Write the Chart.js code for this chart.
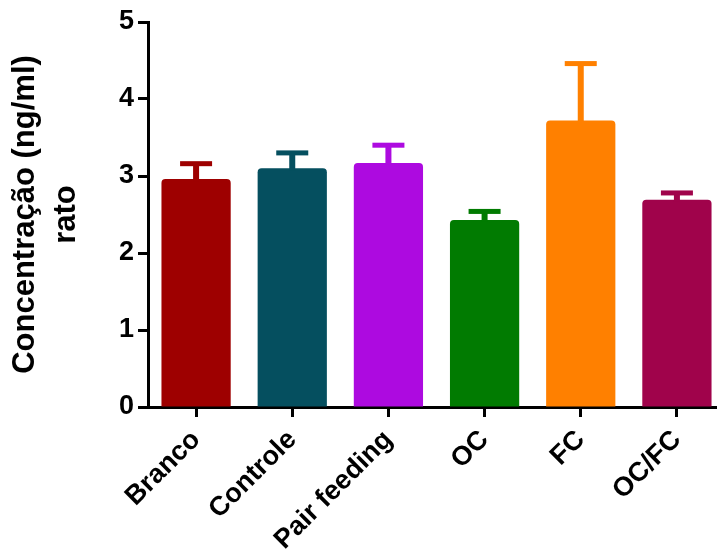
<!DOCTYPE html>
<html>
<head>
<meta charset="utf-8">
<script src="https://cdn.jsdelivr.net/npm/chart.js@4"></script>
<style>
  html, body { margin: 0; padding: 0; background: #fff; overflow: hidden; }
  #wrap { width: 728px; height: 554px; }
</style>
</head>
<body>
<div id="wrap"><canvas id="chart" width="728" height="554"></canvas></div>
<script>
// dados
const grupos = ['Branco', 'Controle', 'Pair feeding', 'OC', 'FC', 'OC/FC'];
const medias = [2.96, 3.10, 3.17, 2.43, 3.72, 2.69];
const erros = [0.20, 0.20, 0.23, 0.11, 0.74, 0.09];
const cores = ['#9E0000', '#054F5F', '#AD0AE0', '#017B01', '#FF8000', '#A0034B'];
const yTicks = [0, 1, 2, 3, 4, 5];

const fonte = "Arial, 'Liberation Sans', sans-serif";

// barras de erro (só para cima), desenhadas pelas escalas do Chart.js
const errorBars = {
    id: 'errorBars',
    afterDatasetsDraw(chart) {
        const ctx = chart.ctx;
        const meta = chart.getDatasetMeta(0);
        const y = chart.scales.y;
        meta.data.forEach((bar, i) => {
            const topo = y.getPixelForValue(medias[i] + erros[i]);
            ctx.save();
            ctx.fillStyle = cores[i];
            ctx.fillRect(bar.x - 3, topo, 6, bar.y - topo + 2);
            ctx.fillRect(bar.x - 16, topo - 2.5, 32, 5);
            ctx.restore();
        });
    }
};

new Chart(document.getElementById('chart'), {
    type: 'bar',
    data: {
        labels: grupos,
        datasets: [{
            data: medias,
            backgroundColor: cores,
            borderWidth: 0,
            borderRadius: 4,
            borderSkipped: 'start',
            categoryPercentage: 1,
            barPercentage: 0.72
        }]
    },
    options: {
        responsive: false,
        animation: false,
        layout: { padding: { top: 22, right: 3, left: 0, bottom: 0 } },
        plugins: { legend: { display: false }, tooltip: { enabled: false } },
        scales: {
            x: {
                afterFit(scale) { scale.height = 147; },
                grid: {
                    offset: false,
                    drawOnChartArea: false,
                    drawTicks: true,
                    tickLength: 10,
                    tickWidth: 3,
                    tickColor: '#000'
                },
                border: { color: '#000', width: 3 },
                ticks: {
                    autoSkip: false,
                    minRotation: 45,
                    maxRotation: 45,
                    padding: 7,
                    color: '#000',
                    font: { family: fonte, size: 27, weight: 'bold' }
                }
            },
            y: {
                min: 0,
                max: 5,
                afterFit(scale) { scale.width = 148; },
                afterBuildTicks(scale) { scale.ticks = yTicks.map(v => ({ value: v })); },
                grid: {
                    drawOnChartArea: false,
                    drawTicks: true,
                    tickLength: 10,
                    tickWidth: 3,
                    tickColor: '#000'
                },
                border: { color: '#000', width: 3 },
                ticks: {
                    padding: 4,
                    color: '#000',
                    font: { family: fonte, size: 27, weight: 'bold' }
                },
                title: {
                    display: true,
                    text: ['Concentração (ng/ml)', 'rato'],
                    color: '#000',
                    padding: { top: 5, bottom: 0 },
                    font: { family: fonte, size: 31, weight: 'bold', lineHeight: 1.32 }
                }
            }
        }
    },
    plugins: [errorBars]
});
</script>
</body>
</html>
